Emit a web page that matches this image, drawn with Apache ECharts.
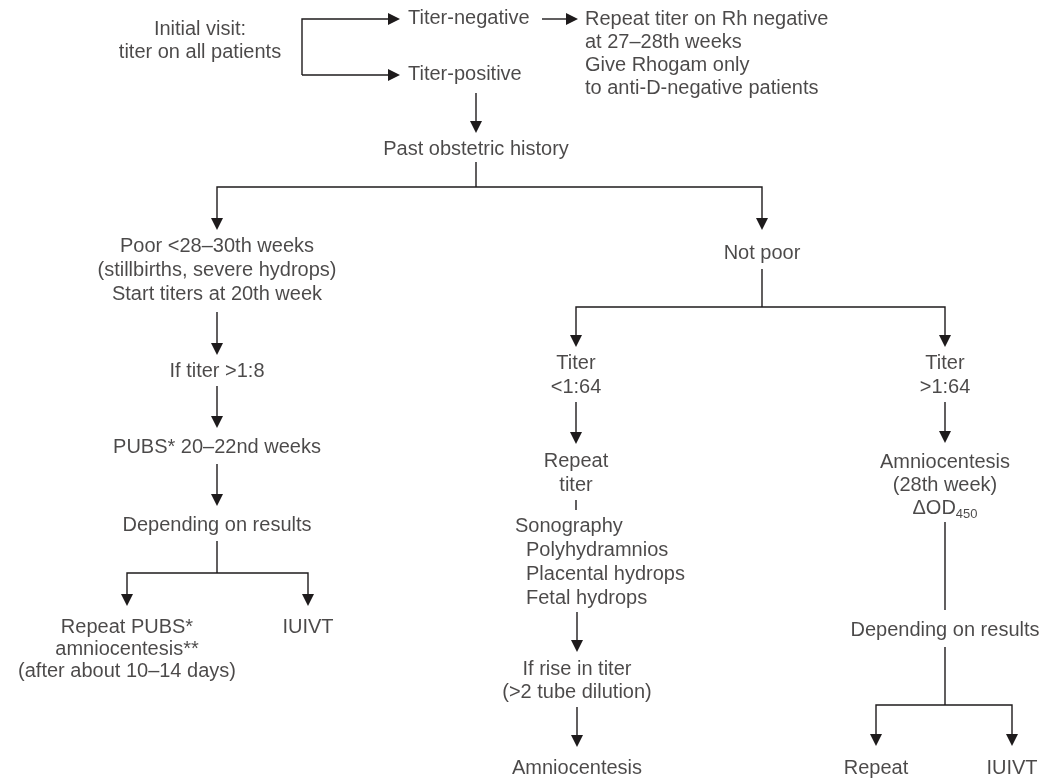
<!DOCTYPE html>
<html>
<head>
<meta charset="utf-8">
<script src="https://cdn.jsdelivr.net/npm/echarts@6/dist/echarts.min.js"></script>
<style>html,body{margin:0;padding:0;background:#fff}#c{width:1051px;height:780px}</style>
</head>
<body>
<div id="c"></div>
<script>
// Flowchart texts: [x, y, text] in the diagram's own 1051x780 coordinate space
const centerTexts = [
  [200, 29, 'Initial visit:'],
  [200, 52, 'titer on all patients'],
  [476, 149, 'Past obstetric history'],
  [217, 246, 'Poor <28\u201330th weeks'],
  [217, 270, '(stillbirths, severe hydrops)'],
  [217, 294, 'Start titers at 20th week'],
  [217, 371, 'If titer >1:8'],
  [217, 447, 'PUBS* 20\u201322nd weeks'],
  [217, 525, 'Depending on results'],
  [127, 627, 'Repeat PUBS*'],
  [127, 649, 'amniocentesis**'],
  [127, 671, '(after about 10\u201314 days)'],
  [308, 627, 'IUIVT'],
  [762, 253, 'Not poor'],
  [576, 363, 'Titer'],
  [576, 387, '<1:64'],
  [576, 461, 'Repeat'],
  [576, 485, 'titer'],
  [577, 669, 'If rise in titer'],
  [577, 692, '(>2 tube dilution)'],
  [577, 768, 'Amniocentesis'],
  [945, 363, 'Titer'],
  [945, 387, '>1:64'],
  [945, 462, 'Amniocentesis'],
  [945, 485, '(28th week)'],
  [945, 630, 'Depending on results'],
  [876, 768, 'Repeat'],
  [1012, 768, 'IUIVT']
];
const leftTexts = [
  [408, 18, 'Titer-negative'],
  [408, 74, 'Titer-positive'],
  [585, 19, 'Repeat titer on Rh negative'],
  [585, 42, 'at 27\u201328th weeks'],
  [585, 65, 'Give Rhogam only'],
  [585, 88, 'to anti-D-negative patients'],
  [515, 526, 'Sonography'],
  [526, 550, 'Polyhydramnios'],
  [526, 574, 'Placental hydrops'],
  [526, 598, 'Fetal hydrops']
];
const subscriptTexts = [
  [945, 508, '\u0394OD', '450']
];
// Connectors ending in an arrowhead (last point = arrow tip)
const arrows = [
  [[302, 75], [302, 19], [400, 19]],
  [[302, 75], [400, 75]],
  [[542, 19], [578, 19]],
  [[476, 93], [476, 133]],
  [[476, 187], [217, 187], [217, 230]],
  [[476, 187], [762, 187], [762, 230]],
  [[217, 312], [217, 355]],
  [[217, 386], [217, 428]],
  [[217, 464], [217, 506]],
  [[217, 573], [127, 573], [127, 606]],
  [[217, 573], [308, 573], [308, 606]],
  [[762, 307], [576, 307], [576, 347]],
  [[762, 307], [945, 307], [945, 347]],
  [[576, 402], [576, 444]],
  [[577, 612], [577, 652]],
  [[577, 707], [577, 747]],
  [[945, 402], [945, 443]],
  [[945, 705], [876, 705], [876, 746]],
  [[945, 705], [1012, 705], [1012, 746]]
];
// Plain connectors without arrowheads
const plainLines = [
  [[476, 162], [476, 187]],
  [[217, 541], [217, 573]],
  [[762, 269], [762, 307]],
  [[576, 500], [576, 510]],
  [[945, 522], [945, 610]],
  [[945, 647], [945, 705]]
];

const INK = '#1e1b1c';
const FONT = 'Liberation Sans, Arial, sans-serif';
const FS = 20;
const HEAD_L = 12, HEAD_W = 6;

function connectorSeries(paths, withHead) {
  return {
    type: 'custom', coordinateSystem: 'cartesian2d', silent: true, clip: false,
    encode: {x: 0, y: 1},
    data: paths.map((p, i) => [p[p.length - 1][0], p[p.length - 1][1], i]),
    renderItem: function (params, api) {
      const path = paths[api.value(2)];
      const pts = path.map(pt => api.coord(pt));
      const children = [];
      let linePts = pts.slice();
      if (withHead) {
        const tip = pts[pts.length - 1], prev = pts[pts.length - 2];
        const dx = tip[0] - prev[0], dy = tip[1] - prev[1];
        const len = Math.sqrt(dx * dx + dy * dy) || 1;
        const ux = dx / len, uy = dy / len;
        const bx = tip[0] - ux * HEAD_L, by = tip[1] - uy * HEAD_L;
        linePts[linePts.length - 1] = [bx + ux * 1, by + uy * 1];
        children.push({
          type: 'polygon',
          shape: {points: [tip, [bx - uy * HEAD_W, by + ux * HEAD_W], [bx + uy * HEAD_W, by - ux * HEAD_W]]},
          style: {fill: INK}
        });
      }
      children.unshift({
        type: 'polyline', shape: {points: linePts},
        style: {stroke: INK, lineWidth: 1.4, fill: null}
      });
      return {type: 'group', children: children};
    }
  };
}

function textSeries(data, align) {
  return {
    type: 'scatter', symbolSize: 0, silent: true, data: data,
    label: {show: true, position: 'inside', align: align, verticalAlign: 'middle',
      color: INK, fontFamily: FONT, fontSize: FS, formatter: p => p.value[2]}
  };
}

const chart = echarts.init(document.getElementById('c'), null, {renderer: 'canvas'});
chart.setOption({
  backgroundColor: '#ffffff',
  animation: false,
  grid: {left: 0, right: 0, top: 0, bottom: 0},
  xAxis: {type: 'value', min: 0, max: 1051, show: false},
  yAxis: {type: 'value', min: 0, max: 780, inverse: true, show: false},
  series: [
    connectorSeries(arrows, true),
    connectorSeries(plainLines, false),
    textSeries(centerTexts, 'center'),
    textSeries(leftTexts, 'left'),
    {
      type: 'scatter', symbolSize: 0, silent: true,
      data: subscriptTexts,
      label: {show: true, position: 'inside', align: 'center', verticalAlign: 'middle',
        color: INK, fontFamily: FONT,
        formatter: p => '{m|' + p.value[2] + '}{s|' + p.value[3] + '}',
        rich: {
          m: {fontSize: FS, fontFamily: FONT, color: INK, lineHeight: 26, verticalAlign: 'middle'},
          s: {fontSize: 13, fontFamily: FONT, color: INK, lineHeight: 26, verticalAlign: 'bottom', padding: [11, 0, 0, 0]}
        }}
    }
  ]
});
</script>
</body>
</html>
